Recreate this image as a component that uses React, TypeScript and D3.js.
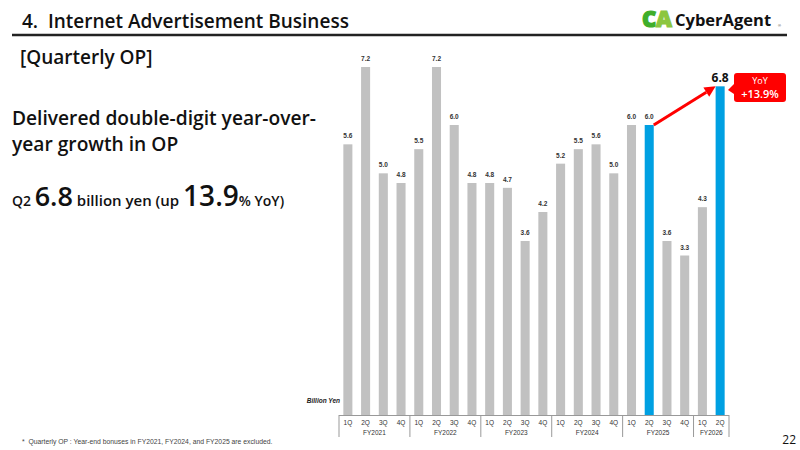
import React from "react";
import * as d3 from "d3";

const years = ["FY2021", "FY2022", "FY2023", "FY2024", "FY2025", "FY2026"];
const quarters = ["1Q", "2Q", "3Q", "4Q"];
const opFY2021 = [5.6, 7.2, 5.0, 4.8];
const opFY2022 = [5.5, 7.2, 6.0, 4.8];
const opFY2023 = [4.8, 4.7, 3.6, 4.2];
const opFY2024 = [5.2, 5.5, 5.6, 5.0];
const opFY2025 = [6.0, 6.0, 3.6, 3.3];
const opFY2026 = [4.3, 6.8];
const highlighted = ["FY2025-2Q", "FY2026-2Q"];

const allOp = [opFY2021, opFY2022, opFY2023, opFY2024, opFY2025, opFY2026];

const FONT = "'Open Sans', Lato, sans-serif";
const SMALL = "Arial, 'Liberation Sans', sans-serif";

export default function App() {
  const rows = [];
  allOp.forEach((vals, yi) => {
    vals.forEach((v, qi) => {
      rows.push({ year: years[yi], q: quarters[qi], key: `${years[yi]}-${quarters[qi]}`, value: v });
    });
  });

  const x = d3
    .scaleBand()
    .domain(rows.map((d) => d.key))
    .range([339, 729])
    .paddingInner(0.49)
    .paddingOuter(0.245);
  const y = d3.scaleLinear().domain([0, 7.2]).range([415, 67]);

  // separators between fiscal years
  const step = x.step();
  const seps = [339];
  years.forEach((yr) => {
    const last = rows.filter((d) => d.year === yr).slice(-1)[0];
    seps.push(x(last.key) - x.paddingOuter() * step + step);
  });

  const from = rows.find((d) => d.key === "FY2025-2Q");
  const to = rows.find((d) => d.key === "FY2026-2Q");
  const ax1 = x(from.key) + x.bandwidth();
  const ay1 = y(from.value);
  const ax2 = x(to.key);
  const ay2 = y(to.value);
  const ang = Math.atan2(ay2 - ay1, ax2 - ax1);
  const headLen = 11;
  const headW = 5.5;
  const bx = ax2 - headLen * Math.cos(ang);
  const by = ay2 - headLen * Math.sin(ang);
  const head = [
    [ax2, ay2],
    [bx + headW * Math.sin(ang), by - headW * Math.cos(ang)],
    [bx - headW * Math.sin(ang), by + headW * Math.cos(ang)],
  ];

  return (
    <svg
      width={800}
      height={450}
      style={{ position: "absolute", left: 0, top: 0, background: "#fff" }}
    >
      {/* header */}
      <text x={22} y={28} fontFamily={FONT} fontSize={19} fontWeight={600} fill="#111" style={{ whiteSpace: "pre" }}>
        {"4.  Internet Advertisement Business"}
      </text>
      <line x1={12} x2={787} y1={35} y2={35} stroke="#222" strokeWidth={2.5} />
      <g>
        <text x={642} y={27} fontFamily={FONT} fontSize={22} fontWeight={800} fill="#3fae2a" stroke="#3fae2a" strokeWidth={1.2}>C</text>
        <text x={656} y={27} fontFamily={FONT} fontSize={22} fontWeight={800} fill="#8cc63f" stroke="#8cc63f" strokeWidth={1.2}>A</text>
        <text x={675} y={26} fontFamily={FONT} fontSize={16.5} fontWeight={700} fill="#111">CyberAgent</text>
        <text x={778} y={27} fontFamily={SMALL} fontSize={4} fill="#333">®</text>
      </g>

      <text x={20} y={64} fontFamily={FONT} fontSize={19} fontWeight={600} fill="#111">
        [Quarterly OP]
      </text>

      <text x={12} y={125} fontFamily={FONT} fontSize={19.2} fontWeight={600} fill="#111">
        Delivered double-digit year-over-
      </text>
      <text x={12} y={151} fontFamily={FONT} fontSize={19.2} fontWeight={600} fill="#111">
        year growth in OP
      </text>
      <text x={12} y={206} fontFamily={FONT} fontWeight={600} fill="#111">
        <tspan fontSize={14}>Q2 </tspan>
        <tspan fontSize={27} fontWeight={600}>6.8</tspan>
        <tspan fontSize={15}> billion yen (up </tspan>
        <tspan fontSize={28} fontWeight={600}>13.9</tspan>
        <tspan fontSize={14}>% YoY)</tspan>
      </text>

      {/* bars */}
      {rows.map((d) => (
        <rect
          key={d.key}
          x={x(d.key)}
          y={y(d.value)}
          width={x.bandwidth()}
          height={y(0) - y(d.value)}
          fill={highlighted.includes(d.key) ? "#00a0e2" : "#c1c1c1"}
        />
      ))}
      {rows.map((d) =>
        d.key === "FY2026-2Q" ? (
          <text
            key={"l" + d.key}
            x={x(d.key) + x.bandwidth() / 2}
            y={y(d.value) - 4}
            textAnchor="middle"
            fontFamily={FONT}
            fontSize={12}
            fontWeight={700}
            fill="#111"
          >
            {d.value.toFixed(1)}
          </text>
        ) : (
          <text
            key={"l" + d.key}
            x={x(d.key) + x.bandwidth() / 2}
            y={y(d.value) - 6}
            textAnchor="middle"
            fontFamily={SMALL}
            fontSize={6.5}
            fontWeight={700}
            fill="#333"
          >
            {d.value.toFixed(1)}
          </text>
        )
      )}

      {/* axis */}
      <line x1={339} x2={729} y1={415.5} y2={415.5} stroke="#999" strokeWidth={1} />
      {seps.map((sx, i) => (
        <line key={"s" + i} x1={sx} x2={sx} y1={415} y2={437} stroke="#999" strokeWidth={1} />
      ))}
      {rows.map((d) => (
        <text
          key={"q" + d.key}
          x={x(d.key) + x.bandwidth() / 2}
          y={425}
          textAnchor="middle"
          fontFamily={SMALL}
          fontSize={6.5}
          fill="#333"
        >
          {d.q}
        </text>
      ))}
      {years.map((yr, i) => (
        <text
          key={"y" + yr}
          x={(seps[i] + seps[i + 1]) / 2}
          y={435}
          textAnchor="middle"
          fontFamily={SMALL}
          fontSize={6.5}
          fill="#333"
        >
          {yr}
        </text>
      ))}
      <text x={340} y={403} textAnchor="end" fontFamily={SMALL} fontSize={6.5} fontWeight={700} fontStyle="italic" fill="#222">
        Billion Yen
      </text>

      {/* YoY arrow */}
      <line x1={ax1} y1={ay1} x2={bx} y2={by} stroke="#ff0000" strokeWidth={3} />
      <polygon points={head.map((p) => p.join(",")).join(" ")} fill="#ff0000" />
      <path d="M734,84 L728,90 L734,94 Z" fill="#ff0000" />
      <rect x={734} y={73} width={52} height={29} rx={3} fill="#ff0000" />
      <text x={760} y={84} textAnchor="middle" fontFamily={FONT} fontSize={9} fill="#fff">YoY</text>
      <text x={760} y={98} textAnchor="middle" fontFamily={FONT} fontSize={11} fontWeight={600} fill="#fff">+13.9%</text>

      {/* footnote */}
      <text x={22} y={444} fontFamily={SMALL} fontSize={6.8} fill="#444" style={{ whiteSpace: "pre" }}>
        {"*  Quarterly OP : Year-end bonuses in FY2021, FY2024, and FY2025 are excluded."}
      </text>
      <text x={796} y={444} textAnchor="end" fontFamily={FONT} fontSize={12} fill="#111">22</text>
    </svg>
  );
}
